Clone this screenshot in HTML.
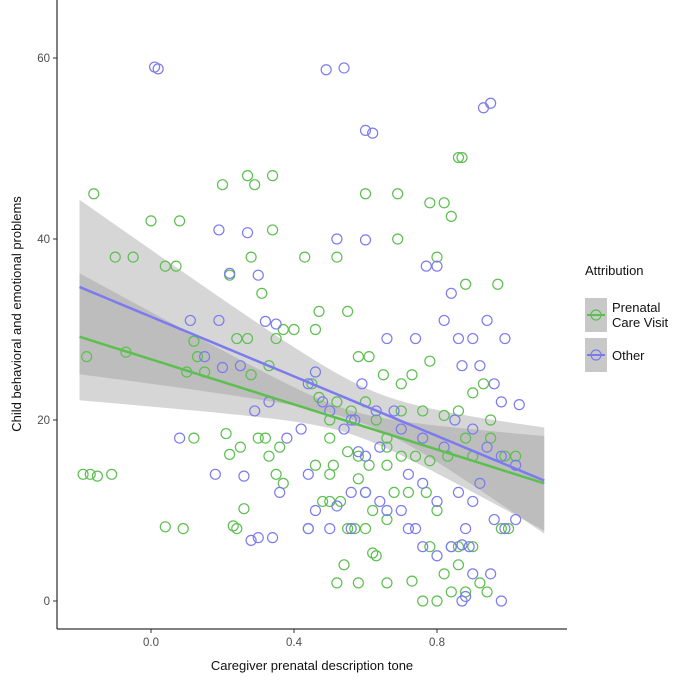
<!DOCTYPE html>
<html><head><meta charset="utf-8"><style>
body{margin:0;background:#fff;font-family:"Liberation Sans",sans-serif}
</style></head><body>
<svg id="chart" width="675" height="683" xmlns="http://www.w3.org/2000/svg" font-family="Liberation Sans, sans-serif">
<g id="bands"></g><g id="pts"></g><g id="lines"></g>
<g id="axes"></g>
<text x="312" y="670" font-size="13" text-anchor="middle" fill="#111">Caregiver prenatal description tone</text>
<text transform="translate(21,314) rotate(-90)" font-size="13" text-anchor="middle" fill="#111">Child behavioral and emotional problems</text>
<g>
<text x="585" y="275" font-size="13" fill="#111">Attribution</text>
<rect x="585" y="298" width="22" height="34" fill="#c8c8c8"/>
<line x1="587" y1="315" x2="605" y2="315" stroke="#5cbf4f" stroke-width="2"/>
<circle cx="596" cy="315" r="5" fill="none" stroke="#5cbf4f" stroke-width="1.2"/>
<text x="612" y="312" font-size="13" fill="#111">Prenatal</text>
<text x="612" y="327" font-size="13" fill="#111">Care Visit</text>
<rect x="585" y="338" width="22" height="34" fill="#c8c8c8"/>
<line x1="587" y1="355" x2="605" y2="355" stroke="#7b7bef" stroke-width="2"/>
<circle cx="596" cy="355" r="5" fill="none" stroke="#7b7bef" stroke-width="1.2"/>
<text x="612" y="360" font-size="13" fill="#111">Other</text>
</g>
</svg>
<script>
const xTicks=[0.0,0.4,0.8];
const xTickLabels=["0.0","0.4","0.8"];
const yTicks=[0,20,40,60];
const yTickLabels=["0","20","40","60"];
const greenX=[-0.16,-0.19,-0.17,-0.15,-0.11,-0.18,-0.07,-0.1,-0.05,0.0,0.08,0.04,0.07,0.1,0.12,0.13,0.15,0.12,0.04,0.09,0.2,0.27,0.29,0.34,0.34,0.22,0.28,0.24,0.27,0.31,0.28,0.33,0.35,0.37,0.4,0.36,0.33,0.35,0.37,0.3,0.32,0.22,0.25,0.26,0.23,0.24,0.21,0.43,0.46,0.47,0.52,0.55,0.45,0.47,0.5,0.52,0.56,0.58,0.61,0.6,0.69,0.69,0.78,0.82,0.84,0.86,0.87,0.8,0.88,0.97,0.65,0.7,0.73,0.78,0.82,0.86,0.9,0.93,0.6,0.63,0.66,0.7,0.74,0.78,0.83,0.9,0.95,0.99,0.5,0.55,0.58,0.61,0.66,0.48,0.5,0.53,0.55,0.57,0.6,0.66,0.68,0.72,0.44,0.5,0.58,0.6,0.62,0.63,0.62,0.54,0.52,0.58,0.66,0.73,0.77,0.8,0.78,0.84,0.86,0.82,0.84,0.88,0.8,0.92,0.94,0.86,0.76,0.9,0.98,1.0,1.02,0.95,0.88,0.7,0.76,0.46,0.51,0.66];
const greenY=[45,14,14,13.8,14,27,27.5,38,38,42,42,37,37,25.3,28.7,27,25.3,18,8.2,8,46,47,46,47,41,36,38,29,29,34,25,26,29,30,30,17,16,14,13,18,18,16.2,17,10.2,8.3,8,18.5,38,30,32,38,32,24,22.5,20,22,21,27,27,45,45,40,44,44,42.5,49,49,38,35,35,25,24,25,26.5,20.5,21,23,24,22,20,18,16,16,15.5,16,16,18,16,18,16.5,16,15,15,11,11,11,8,8,8,9,12,12,8,14,13.5,12,10,5,5.3,4,2,2,2,2.2,12,10,6,6,6,3,1,1,0,2,1,4,0,6,8,8,16,20,18,21,21,15,15,17];
const purpleX=[0.01,0.02,0.49,0.54,0.6,0.62,0.93,0.95,0.19,0.27,0.52,0.6,0.22,0.3,0.32,0.35,0.11,0.19,0.25,0.29,0.33,0.2,0.15,0.44,0.46,0.54,0.57,0.63,0.59,0.66,0.74,0.82,0.86,0.9,0.94,0.99,0.77,0.8,0.84,0.87,0.92,0.96,0.98,1.03,0.9,0.94,0.98,1.02,0.85,0.82,0.76,0.7,0.68,0.64,0.6,0.56,0.48,0.5,0.42,0.38,0.18,0.26,0.36,0.44,0.46,0.52,0.56,0.6,0.64,0.7,0.74,0.8,0.86,0.9,0.92,0.96,0.99,1.02,0.88,0.84,0.87,0.89,0.9,0.95,0.98,0.87,0.88,0.8,0.76,0.72,0.66,0.3,0.28,0.34,0.44,0.5,0.56,0.58,0.72,0.76,0.08];
const purpleY=[59,58.8,58.7,58.9,52,51.7,54.5,55,41,40.7,40,39.9,36.2,36,30.9,30.6,31,31,26,21,22,25.8,27,24,25.3,19,20,21,24,29,29,31,29,29,31,29,37,37,34,26,26,24,22,21.7,19,17,16,15,20,17,18,19,21,17,16,20,22,21,19,18,14,13.8,12,14,10,10.5,12,12,11,10,8,11,12,11,13,9,8,9,8,6,6.2,6,3,3,0,0,0.5,5,6,8,10,7,6.7,7,8,8,8,16.5,14,13,18];
const gLine={a:29.2,b:(13-29.2)/1.3,x0:-0.2,xm:0.55,h0:1.3,k:9.2};
const pLine={a:34.7,b:(13.3-34.7)/1.3,x0:-0.2,xm:0.62,h0:2.0,k:11.5};
const xs=v=>151+v*357.5, ys=v=>601-v*9.05;
const NS="http://www.w3.org/2000/svg";
function mk(t,p,a){const e=document.createElementNS(NS,t);for(const k in a)e.setAttribute(k,a[k]);p.appendChild(e);return e;}
const bands=document.getElementById('bands'),lines=document.getElementById('lines'),pts=document.getElementById('pts'),axes=document.getElementById('axes');
function fit(L,x){return L.a+L.b*(x-L.x0);}
function hw(L,x){return Math.sqrt(L.h0*L.h0+L.k*L.k*(x-L.xm)*(x-L.xm));}
[[gLine,'#5cbf4f','green'],[pLine,'#7b7bef','purple']].forEach(([L,c,n])=>{
  let up=[],dn=[],ln=[];
  for(let i=0;i<=60;i++){const x=-0.2+1.3*i/60;const m=fit(L,x),h=hw(L,x);
    up.push(xs(x)+','+ys(m+h));dn.unshift(xs(x)+','+ys(m-h));ln.push(xs(x)+','+ys(m));}
  const b=mk('polygon',bands,{points:up.concat(dn).join(' '),fill:'#999',opacity:'0.4'});
  
  
  const l=mk('polyline',lines,{points:ln.join(' '),fill:'none',stroke:c,'stroke-width':'2.5'});
  
  
});
function drawPts(X,Y,c,n){X.forEach((x,i)=>{const p=mk('circle',pts,{cx:xs(x),cy:ys(Y[i]),r:5,fill:'none',stroke:c,'stroke-width':'1.2'});
  
  });}
drawPts(greenX,greenY,'#5cbf4f','prenatal');
drawPts(purpleX,purpleY,'#7b7bef','other');
mk('line',axes,{x1:57,y1:0,x2:57,y2:629,stroke:'#000','stroke-width':1});
mk('line',axes,{x1:57,y1:629,x2:567,y2:629,stroke:'#000','stroke-width':1});
xTicks.forEach((v,i)=>{mk('line',axes,{x1:xs(v),y1:629,x2:xs(v),y2:633,stroke:'#333'});
  const t=mk('text',axes,{x:xs(v),y:646,'font-size':11.5,'text-anchor':'middle',fill:'#4d4d4d'});t.textContent=xTickLabels[i];
  
  });
yTicks.forEach((v,i)=>{mk('line',axes,{x1:53,y1:ys(v),x2:57,y2:ys(v),stroke:'#333'});
  const t=mk('text',axes,{x:50,y:ys(v)+4,'font-size':11.5,'text-anchor':'end',fill:'#4d4d4d'});t.textContent=yTickLabels[i];
  
  });
</script>
</body></html>
